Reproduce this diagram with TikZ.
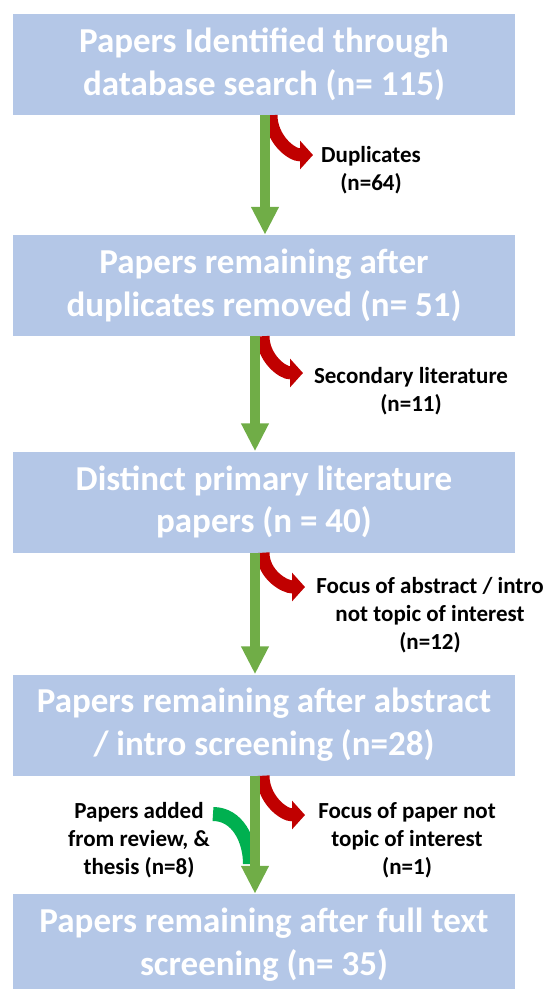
\documentclass[tikz,border=0pt]{standalone}
\usepackage{fontspec}
\setmainfont{Carlito}
\usetikzlibrary{arrows.meta}
\definecolor{boxblue}{HTML}{B4C7E7}
\definecolor{flowgreen}{HTML}{70AD47}
\definecolor{dropred}{HTML}{C00000}
\definecolor{addgreen}{HTML}{00B050}

\begin{document}
\begin{tikzpicture}[x=1pt,y=-1pt,
  stage/.style={fill=boxblue, text=white, font=\fontsize{35}{42.7}\selectfont\bfseries,
    align=center, minimum width=502pt, minimum height=101pt, inner sep=0pt},
  note/.style={font=\fontsize{23}{28}\selectfont\bfseries, align=center, inner sep=0pt},
  flow/.style={flowgreen, line width=10pt, -{Triangle[length=28pt,width=26pt]}},
  drop/.style={dropred, line width=13pt, -{Triangle[length=13pt,width=28pt]}},
  addin/.style={addgreen, line width=14pt}]
\clip (0,0) rectangle (550,989);

% Stages of the screening
\node[stage] (s1) at (264,64.5) {Papers Identified through\\database search (n= 115)};
\node[stage] (s2) at (264,285.5) {Papers remaining after\\duplicates removed (n= 51)};
\node[stage] (s3) at (264,502) {Distinct primary literature\\papers (n = 40)};
\node[stage] (s4) at (264,725) {Papers remaining after abstract\\/ intro screening (n=28)};
\node[stage] (s5) at (264,944.5) {Papers remaining after full text\\screening (n= 35)};

% Removed and added papers
\node[note] (n1) at (371,170) {Duplicates\\(n=64)};
\node[note] (n2) at (411,391) {Secondary literature\\(n=11)};
\node[note] (n3) at (430,615) {Focus of abstract / intro\\not topic of interest\\(n=12)};
\node[note] (n4) at (407,840) {Focus of paper not\\topic of interest\\(n=1)};
\node[note] (n5) at (139,840) {Papers added\\from review, \&\\thesis (n=8)};

\coordinate (t1) at (313,155);
\coordinate (t2) at (303,373);
\coordinate (t3) at (305,587);
\coordinate (t4) at (305,815);
\coordinate (a5) at (213,814);
\coordinate (m5) at (250,864);

% Red arrows out
\draw[drop] ([xshift=7pt]s1.south) to[out=-90,in=180] (t1);
\draw[drop] ([xshift=-1pt]s2.south) to[out=-90,in=180] (t2);
\draw[drop] ([xshift=-1pt]s3.south) to[out=-90,in=180] (t3);
\draw[drop] ([xshift=-1pt]s4.south) to[out=-90,in=180] (t4);

% Green arrows down
\draw[addin] (a5) to[out=0,in=90] (m5);
\draw[flow] ([xshift=1pt]s1.south) -- ([xshift=1pt]s2.north);
\draw[flow] ([xshift=-9pt]s2.south) -- ([xshift=-9pt]s3.north);
\draw[flow] ([xshift=-9pt]s3.south) -- ([xshift=-9pt]s4.north);
\draw[flow] ([xshift=-9pt]s4.south) -- ([xshift=-9pt]s5.north);
\end{tikzpicture}
\end{document}
